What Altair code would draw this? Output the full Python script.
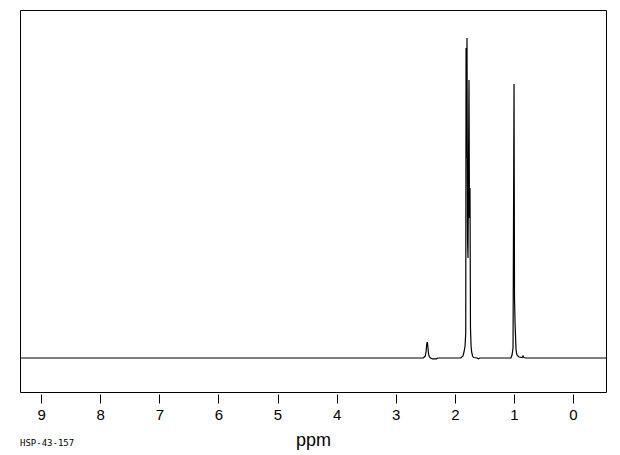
import altair as alt
import pandas as pd

# spectrum trace (ppm, relative intensity)
ppm = [9.357, 2.53, 2.50, 2.485, 2.475, 2.465, 2.455, 2.445, 2.43, 2.41, 2.38, 2.31, 2.29,
       1.90, 1.861, 1.844, 1.827, 1.815, 1.810, 1.803, 1.794, 1.785, 1.777, 1.760, 1.752,
       1.743, 1.735, 1.725, 1.715, 1.70, 1.68, 1.62, 1.60, 1.58,
       1.05, 1.032, 1.015, 0.998, 0.99, 0.981, 0.964, 0.948, 0.914, 0.86, 0.846, 0.83, 0.80, -0.558]
intensity = [0, 0, 2, 7, 14, 16, 11, 4, 1, 0, -0.8, -0.8, 0,
             0, 2, 6, 12, 25, 310, 200, 320, 120, 100, 278, 140,
             170, 30, 12, 6, 2, 0.5, 0, -0.7, 0,
             0, 3, 10, 274, 60, 35, 8, 3, 1, 0.5, 2, 0.5, 0, 0]

tick_values = [x / 2 for x in range(0, 19)]
x_title = "ppm"
sample_id = "HSP-43-157"

df = pd.DataFrame({"ppm": ppm, "intensity": intensity})

line = alt.Chart(df).mark_line(color="black", strokeWidth=1.2).encode(
    x=alt.X(
        "ppm:Q",
        scale=alt.Scale(domain=[-0.558, 9.357], reverse=True, nice=False, zero=False),
        axis=alt.Axis(
            values=tick_values,
            labelExpr="datum.value % 1 === 0 ? datum.label : ''",
            format="d",
            domain=False,
            grid=False,
            offset=2,
            tickColor="black",
            tickWidth=1,
            tickSize={"condition": {"test": "datum.value % 1 === 0", "value": 9}, "value": 5},
            labelFont="Liberation Sans",
            labelFontSize=15,
            labelColor="black",
            labelPadding=4,
            title=x_title,
            titleFont="Liberation Sans",
            titleFontSize=18,
            titleFontWeight="normal",
            titleColor="black",
            titlePadding=9,
        ),
    ),
    y=alt.Y("intensity:Q", scale=alt.Scale(domain=[-34, 348], nice=False, zero=False), axis=None),
)

label = alt.Chart(pd.DataFrame({"t": [sample_id]})).mark_text(
    align="left", baseline="middle", font="DejaVu Sans Mono", fontSize=9, color="black"
).encode(x=alt.value(0), y=alt.value(433), text="t:N")

chart = alt.layer(line, label).properties(
    width=586,
    height=382,
    background="white",
    padding={"left": 12, "top": 2, "right": 6, "bottom": 62},
    autosize=alt.AutoSizeParams(type="none"),
).configure_view(stroke="black", strokeWidth=1)

chart.save("out.html", embed_options={"renderer": "svg", "actions": False})
